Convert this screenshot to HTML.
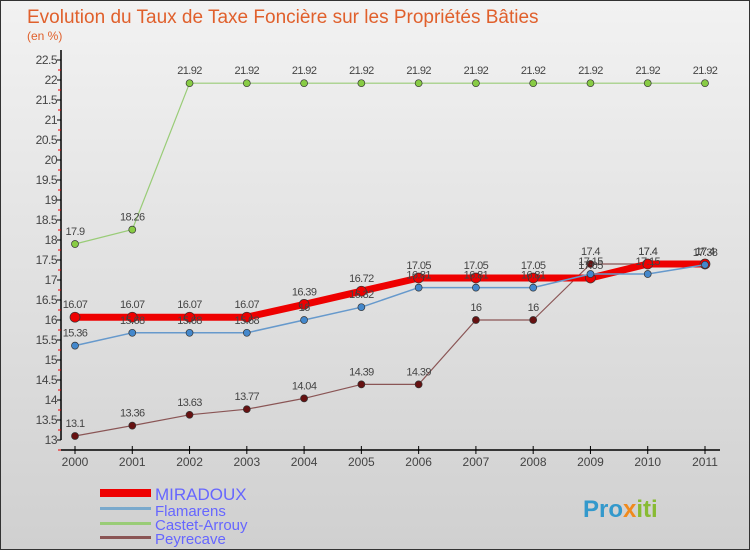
<!DOCTYPE html>
<html><head><meta charset="utf-8"><style>
body{margin:0}
svg text{font-family:"Liberation Sans",sans-serif}
</style></head><body>
<svg id="c" width="750" height="550" xmlns="http://www.w3.org/2000/svg">
<defs><linearGradient id="bg" x1="0" y1="0" x2="0" y2="1"><stop offset="0" stop-color="#f2f2f2"/><stop offset="1" stop-color="#d0d0d0"/></linearGradient></defs>
<rect x="0.5" y="0.5" width="749" height="549" fill="url(#bg)" stroke="#333"/>
<text x="27" y="23" font-size="19" fill="#e0602c">Evolution du Taux de Taxe Foncière sur les Propriétés Bâties</text>
<text x="27" y="40" font-size="12" fill="#e0602c">(en %)</text>
<g id="axes"></g><g id="series"></g>
<g>
<rect x="100" y="489" width="51" height="8" fill="#e00"/>
<text x="155" y="500" font-size="17" fill="#66f">MIRADOUX</text>
<rect x="100" y="507" width="51" height="3" fill="#7aa9cc"/>
<text x="155" y="516" font-size="15" fill="#66f">Flamarens</text>
<rect x="100" y="522" width="51" height="3" fill="#99cc77"/>
<text x="155" y="530" font-size="15" fill="#66f">Castet-Arrouy</text>
<rect x="100" y="536" width="51" height="3" fill="#8a5555"/>
<text x="155" y="544" font-size="15" fill="#66f">Peyrecave</text>
</g>
<text x="583" y="517" font-size="24" font-weight="bold" fill="#3399cc">Pro<tspan fill="#f08a1c">x</tspan><tspan fill="#88bb33">iti</tspan></text>
</svg>
<script>
const years=[2000,2001,2002,2003,2004,2005,2006,2007,2008,2009,2010,2011];
const miradoux=[16.07,16.07,16.07,16.07,16.39,16.72,17.05,17.05,17.05,17.05,17.4,17.4];
const flamarens=[15.36,15.68,15.68,15.68,16,16.32,16.81,16.81,16.81,17.15,17.15,17.38];
const castet=[17.9,18.26,21.92,21.92,21.92,21.92,21.92,21.92,21.92,21.92,21.92,21.92];
const peyrecave=[13.1,13.36,13.63,13.77,14.04,14.39,14.39,16,16,17.4,17.4,17.4];
const yTicks=[13,13.5,14,14.5,15,15.5,16,16.5,17,17.5,18,18.5,19,19.5,20,20.5,21,21.5,22,22.5];
const NS="http://www.w3.org/2000/svg";
const X=i=>75+i*(630/11), Y=v=>440-(v-13)*40;
function mk(t,a,p){const e=document.createElementNS(NS,t);for(const k in a)e.setAttribute(k,a[k]);p.appendChild(e);return e;}
const ax=document.getElementById('axes'), sg=document.getElementById('series');
let l=mk('line',{x1:61,y1:50,x2:61,y2:440,stroke:'#000','stroke-width':1.5},ax);


l=mk('line',{x1:61,y1:450,x2:720,y2:450,stroke:'#000','stroke-width':1.5},ax);


yTicks.forEach(v=>{
  mk('line',{x1:57,y1:Y(v),x2:61,y2:Y(v),stroke:'#000'},ax);
  mk('line',{x1:58,y1:Y(v)+10,x2:61,y2:Y(v)+10,stroke:'#e00'},ax);
  const t=mk('text',{x:57,y:Y(v)+4,'font-size':12,'text-anchor':'end',fill:'#444','letter-spacing':'-0.5'},ax);
  t.textContent=v;
  
  
});
years.forEach((y,i)=>{
  mk('line',{x1:X(i),y1:446,x2:X(i),y2:454,stroke:'#000'},ax);
  const t=mk('text',{x:X(i),y:466,'font-size':12,'text-anchor':'middle',fill:'#444'},ax);
  t.textContent=y;
  
  
});
function series(d,col,w,name,dot,r){
  const g=mk('g',{},sg);
  
  
  mk('polyline',{points:d.map((v,i)=>X(i)+','+Y(v)).join(' '),fill:'none',stroke:col,'stroke-width':w,'stroke-linejoin':'round'},g);
  d.forEach((v,i)=>{
    const c=mk('circle',{cx:X(i),cy:Y(v),r:r,fill:dot,stroke:'#333','stroke-width':0.7},g);
    
    
    const t=mk('text',{x:X(i),y:Y(v)-9,'font-size':11,'text-anchor':'middle',fill:'#444','letter-spacing':'-0.6'},g);
    t.textContent=v;
    
    
  });
}
series(castet,'#99cc77',1.2,'castet-arrouy','#88cc44',3.5);
series(peyrecave,'#8a5555',1.2,'peyrecave','#661111',3.5);
series(miradoux,'#ee0000',7,'miradoux','#ee0000',5);
series(flamarens,'#6699cc',1.5,'flamarens','#4488cc',3.5);
</script>
</body></html>
